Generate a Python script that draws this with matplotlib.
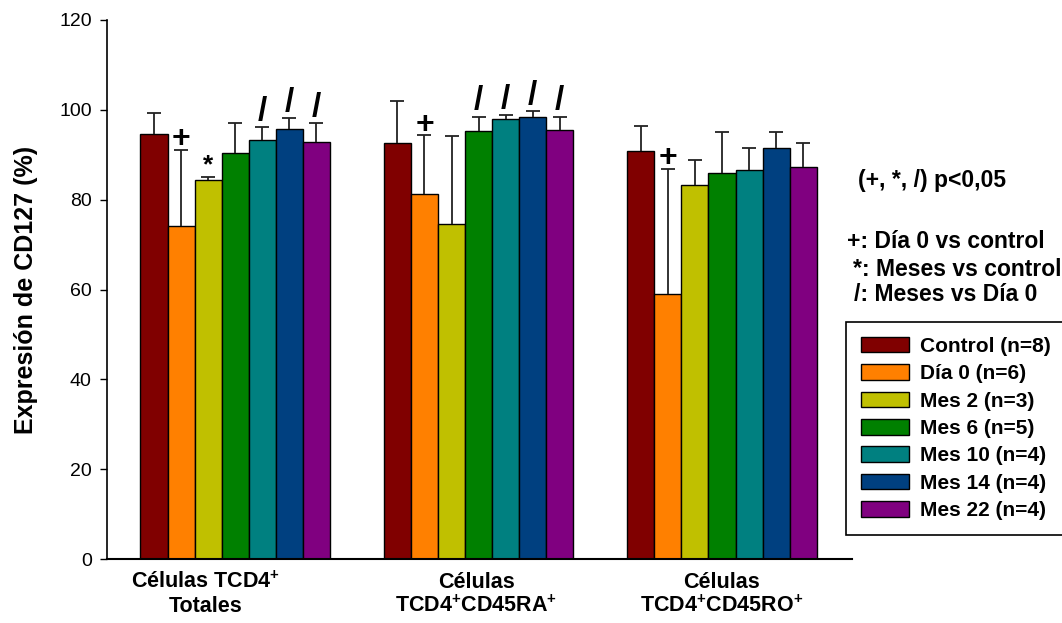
import numpy as np
import matplotlib
matplotlib.use("Agg")
import matplotlib.pyplot as plt

plt.rcParams['font.family'] = ['Liberation Sans', 'DejaVu Sans']
plt.rcParams['mathtext.fontset'] = 'custom'
plt.rcParams['mathtext.rm'] = 'Liberation Sans'
plt.rcParams['mathtext.bf'] = 'Liberation Sans:bold'

# datos
grupos = ['Células TCD4$^{\\mathbf{+}}$\nTotales',
          'Células\nTCD4$^{\\mathbf{+}}$CD45RA$^{\\mathbf{+}}$',
          'Células\nTCD4$^{\\mathbf{+}}$CD45RO$^{\\mathbf{+}}$']
series = ['Control (n=8)', 'Día 0 (n=6)', 'Mes 2 (n=3)', 'Mes 6 (n=5)',
          'Mes 10 (n=4)', 'Mes 14 (n=4)', 'Mes 22 (n=4)']
colores = ['#800000', '#ff8000', '#c0c000', '#008000', '#008080', '#004080', '#800080']

control = [94.7, 92.6, 90.9]
dia0 = [74.2, 81.2, 59.1]
mes2 = [84.4, 74.5, 83.2]
mes6 = [90.4, 95.2, 86.0]
mes10 = [93.2, 97.9, 86.6]
mes14 = [95.8, 98.3, 91.5]
mes22 = [92.8, 95.5, 87.2]

sd_control = [4.5, 9.4, 5.4]
sd_dia0 = [16.9, 13.1, 27.7]
sd_mes2 = [0.7, 19.6, 5.7]
sd_mes6 = [6.6, 3.3, 9.0]
sd_mes10 = [2.9, 1.0, 5.0]
sd_mes14 = [2.4, 1.5, 3.5]
sd_mes22 = [4.2, 3.0, 5.5]

# (grupo, serie, simbolo)
marcas = [(0, 1, '+'), (0, 2, '*'), (0, 4, '/'), (0, 5, '/'), (0, 6, '/'),
          (1, 1, '+'), (1, 3, '/'), (1, 4, '/'), (1, 5, '/'), (1, 6, '/'),
          (2, 1, '+')]

medias = [control, dia0, mes2, mes6, mes10, mes14, mes22]
sds = [sd_control, sd_dia0, sd_mes2, sd_mes6, sd_mes10, sd_mes14, sd_mes22]

fig = plt.figure(figsize=(10.62, 6.23), dpi=100)
ax = fig.add_axes([107/1062, 1-559/623, (852-107)/1062, (559-20)/623])

x = np.arange(len(grupos))
w = 0.111
for i in range(len(series)):
    xi = x + (i - 3) * w
    ax.bar(xi, medias[i], w, color=colores[i], edgecolor='black', linewidth=1.0,
           label=series[i], zorder=2)
    eb = ax.errorbar(xi, medias[i], yerr=[np.zeros(3), sds[i]], fmt='none',
                     ecolor='#222222', elinewidth=1.3, capsize=5, capthick=1.3,
                     zorder=3)
    eb[1][0].set_visible(False)  # sin tapa inferior

offs = {'+': 0.6, '*': 1.0, '/': 1.6}
tam = {'+': 23, '*': 19, '/': 24}
for g, s, sym in marcas:
    xs = g + (s - 3) * w
    ys = medias[s][g] + sds[s][g] + offs[sym]
    ax.text(xs, ys, sym, ha='center', va='baseline', fontsize=tam[sym],
            fontweight='bold')

ax.set_xlim(-0.526, 2.534)
ax.set_ylim(0, 120)
ax.set_yticks(range(0, 121, 20))
ax.tick_params(axis='y', labelsize=14, length=5, width=1, direction='out', pad=6)
ax.set_xticks(x + np.array([-0.12, -0.01, 0.0]))
ax.set_xticklabels(grupos, fontsize=15.5, fontweight='bold')
ax.tick_params(axis='x', length=0, pad=9)
ax.spines['top'].set_visible(False)
ax.spines['right'].set_visible(False)
ax.spines['left'].set_linewidth(1.2)
ax.spines['bottom'].set_linewidth(1.5)

ax.set_ylabel('Expresión de CD127 (%)', fontsize=18, fontweight='bold')
ax.yaxis.set_label_coords((38-107)/745, 0.5)

fig.text(858/1062, 1-180/623, '(+, *, /) p<0,05', fontsize=16.5, fontweight='bold',
         ha='left', va='center')
fig.text(847/1062, 1-242/623, '+: Día 0 vs control', fontsize=16.5, fontweight='bold',
         ha='left', va='center')
fig.text(853/1062, 1-269/623, '*: Meses vs control', fontsize=16.5, fontweight='bold',
         ha='left', va='center')
fig.text(854/1062, 1-295/623, '/: Meses vs Día 0', fontsize=16.5, fontweight='bold',
         ha='left', va='center')

leg = fig.legend(loc='upper left', bbox_to_anchor=(846/1062, 1-321.7/623),
                 borderaxespad=0, fancybox=False, edgecolor='black', framealpha=1,
                 prop={'weight': 'bold', 'size': 15}, handlelength=2.3,
                 handleheight=0.78, handletextpad=0.55, labelspacing=0.4,
                 borderpad=0.72)
leg.get_frame().set_linewidth(1.2)

fig.savefig('out.png', dpi=100)
